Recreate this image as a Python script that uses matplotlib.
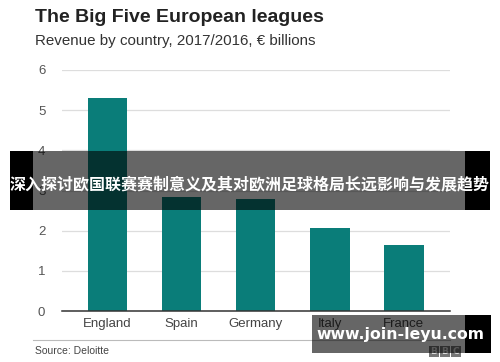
import matplotlib
matplotlib.use("Agg")
import matplotlib.pyplot as plt
from matplotlib.patches import Rectangle

countries = ["England", "Spain", "Germany", "Italy", "France"]
revenue = [5.30, 2.84, 2.79, 2.07, 1.64]
yticks = [0, 1, 2, 3, 4, 5, 6]

title = "The Big Five European leagues"
subtitle = "Revenue by country, 2017/2016, € billions"
source = "Source: Deloitte"
banner = "深入探讨欧国联赛赛制意义及其对欧洲足球格局长远影响与发展趋势"
watermark = "www.join-leyu.com"

W, H = 500, 362
fig = plt.figure(figsize=(W / 100, H / 100), dpi=100)
fig.patch.set_facecolor("white")

def px(x, y):
    # pixel coords (top-left origin) -> figure fraction
    return x / W, 1 - y / H

def box(x0, y0, x1, y1, **kw):
    # rectangle from pixel corners (top-left, bottom-right)
    fig.add_artist(Rectangle(px(x0, y1), (x1 - x0) / W, (y1 - y0) / H,
                             transform=fig.transFigure, lw=0, **kw))

ax = fig.add_axes([62 / W, (H - 311) / H, 388 / W, 241 / H])
ax.bar(range(len(countries)), revenue, width=0.54, color="#0a7d79", zorder=3)
ax.set_xlim(-0.615, 4.628)
ax.set_ylim(0, 6)
ax.set_yticks(yticks)
ax.set_xticks(range(len(countries)))
ax.set_xticklabels(countries, fontsize=9.5, color="#444444", family="Liberation Sans")
ax.set_yticklabels([str(t) for t in yticks], fontsize=9.5, color="#555555", family="Liberation Sans")
ax.tick_params(length=0, pad=12, axis="y")
ax.tick_params(length=0, pad=5, axis="x")
ax.yaxis.grid(True, color="#dddddd", lw=0.9, zorder=0)
for s in ["top", "right", "left"]:
    ax.spines[s].set_visible(False)
ax.spines["bottom"].set_color("#333333")
ax.spines["bottom"].set_linewidth(1.1)
ax.spines["bottom"].set_zorder(4)

# titles
fig.text(*px(35, 17), title, fontsize=14, fontweight="bold", color="#222222",
         family="Liberation Sans", va="center", ha="left")
fig.text(*px(35, 41), subtitle, fontsize=10.9, color="#333333",
         family="Liberation Sans", va="center", ha="left")

# source line
fig.add_artist(plt.Line2D([33 / W, 450 / W], [1 - 340 / H, 1 - 340 / H],
                          color="#bbbbbb", lw=0.8))
fig.text(*px(35, 351), source, fontsize=7.5, color="#444444",
         family="Liberation Sans", va="center", ha="left")

# BBC logo
for i, letter in enumerate("BBC"):
    x0 = 429 + i * 11
    box(x0, 346, x0 + 9.5, 357, color="#777777", zorder=5)
    fig.text(*px(x0 + 4.75, 351.5), letter, fontsize=6.5, fontweight="bold", color="#dddddd",
             ha="center", va="center", zorder=6)

# banner overlay
box(10, 151, 33, 210, color="black", zorder=10)
box(465, 151, 490, 210, color="black", zorder=10)
box(33, 151, 465, 210, color="black", alpha=0.6, zorder=10)
fig.text(*px(250, 184), banner, fontsize=11.5, fontweight="bold", color="white",
         family=["Noto Sans CJK SC", "DejaVu Sans"], ha="center", va="center", zorder=12)

# watermark box
box(312, 315, 465, 353, color="black", alpha=0.6, zorder=10)
box(465, 315, 491, 353, color="black", zorder=10)
fig.text(*px(400, 334), watermark, fontsize=11.3, fontweight="bold", color="white",
         family="DejaVu Sans", ha="center", va="center", zorder=12)

fig.savefig("out.png", dpi=100)
